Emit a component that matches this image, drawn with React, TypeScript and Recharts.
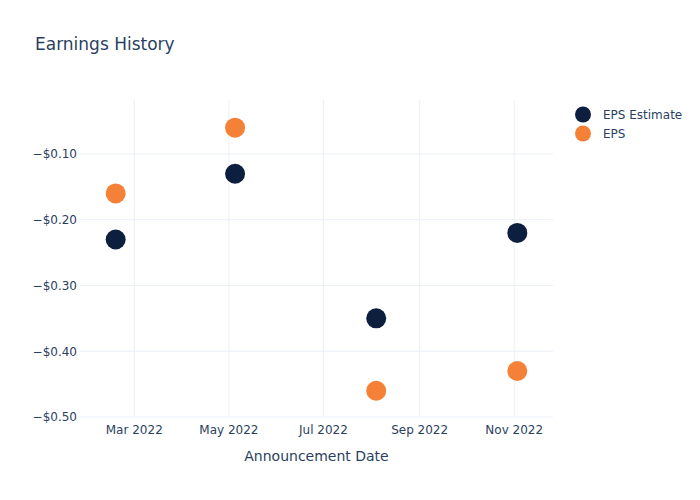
import React from "react";
import { ScatterChart, Scatter, XAxis, YAxis, CartesianGrid } from "recharts";

const announcementDates = ["2022-02-17", "2022-05-05", "2022-08-04", "2022-11-03"];
const epsEstimate = [-0.23, -0.13, -0.35, -0.22];
const epsActual = [-0.16, -0.06, -0.46, -0.43];
const xTickDates = ["2022-03-01", "2022-05-01", "2022-07-01", "2022-09-01", "2022-11-01"];
const yTicks = [-0.5, -0.4, -0.3, -0.2, -0.1];
const monthNames = ["Jan", "Feb", "Mar", "Apr", "May", "Jun", "Jul", "Aug", "Sep", "Oct", "Nov", "Dec"];

const toTs = (s: string) => Date.parse(s + "T00:00:00Z");

const estimateData = announcementDates.map((d, i) => ({ x: toTs(d), y: epsEstimate[i] }));
const epsData = announcementDates.map((d, i) => ({ x: toTs(d), y: epsActual[i] }));
const xTicks = xTickDates.map(toTs);

const COLOR_EST = "#0c1f3f";
const COLOR_EPS = "#f58138";
const TEXT = "#2a3f5f";
const FONT = "'DejaVu Sans', sans-serif";

const fmtDate = (t: number) => {
  const d = new Date(t);
  return `${monthNames[d.getUTCMonth()]} ${d.getUTCFullYear()}`;
};
const fmtMoney = (v: number) => (v < 0 ? "\u2212" : "") + "$" + Math.abs(v).toFixed(2);

const dot = (color: string) => (props: any) => (
  <circle cx={props.cx} cy={props.cy} r={10} fill={color} />
);

const legendItems: [string, string][] = [
  ["EPS Estimate", COLOR_EST],
  ["EPS", COLOR_EPS],
];

export default function App() {
  return (
    <div style={{ position: "absolute", left: 0, top: 0, width: 700, height: 500, background: "#fff" }}>
      <div
        style={{
          position: "absolute",
          left: 35,
          top: 34,
          fontFamily: FONT,
          fontSize: 17,
          color: TEXT,
          whiteSpace: "nowrap",
        }}
      >
        Earnings History
      </div>
      <div style={{ position: "absolute", left: 574, top: 105, fontFamily: FONT, fontSize: 12, color: TEXT }}>
        {legendItems.map(([name, c]) => (
          <div key={name} style={{ display: "flex", alignItems: "center", height: 19 }}>
            <svg width={20} height={19}>
              <circle cx={9} cy={9.5} r={8} fill={c} />
            </svg>
            <span style={{ marginLeft: 9 }}>{name}</span>
          </div>
        ))}
      </div>
      <ScatterChart width={700} height={500} margin={{ top: 100, right: 147, bottom: 0, left: 0 }}>
        <CartesianGrid stroke="#ebf0f8" strokeWidth={1} horizontalValues={yTicks} verticalValues={xTicks} />
        <XAxis
          type="number"
          dataKey="x"
          domain={[toTs("2022-01-25"), toTs("2022-11-26")]}
          ticks={xTicks}
          tickFormatter={fmtDate}
          axisLine={false}
          tickLine={false}
          tickSize={0}
          tickMargin={8}
          height={83}
          allowDataOverflow
          tick={{ fill: TEXT, fontSize: 12, fontFamily: FONT }}
          label={{
            value: "Announcement Date",
            position: "insideTop",
            offset: 34,
            fill: TEXT,
            fontSize: 14,
            fontFamily: FONT,
          }}
        />
        <YAxis
          type="number"
          dataKey="y"
          domain={[-0.5, -0.0179]}
          ticks={yTicks}
          tickFormatter={fmtMoney}
          axisLine={false}
          tickLine={false}
          tickSize={0}
          tickMargin={3}
          width={80}
          allowDataOverflow
          tick={{ fill: TEXT, fontSize: 12, fontFamily: FONT }}
        />
        <Scatter name="EPS Estimate" data={estimateData} fill={COLOR_EST} shape={dot(COLOR_EST)} isAnimationActive={false} />
        <Scatter name="EPS" data={epsData} fill={COLOR_EPS} shape={dot(COLOR_EPS)} isAnimationActive={false} />
      </ScatterChart>
    </div>
  );
}
